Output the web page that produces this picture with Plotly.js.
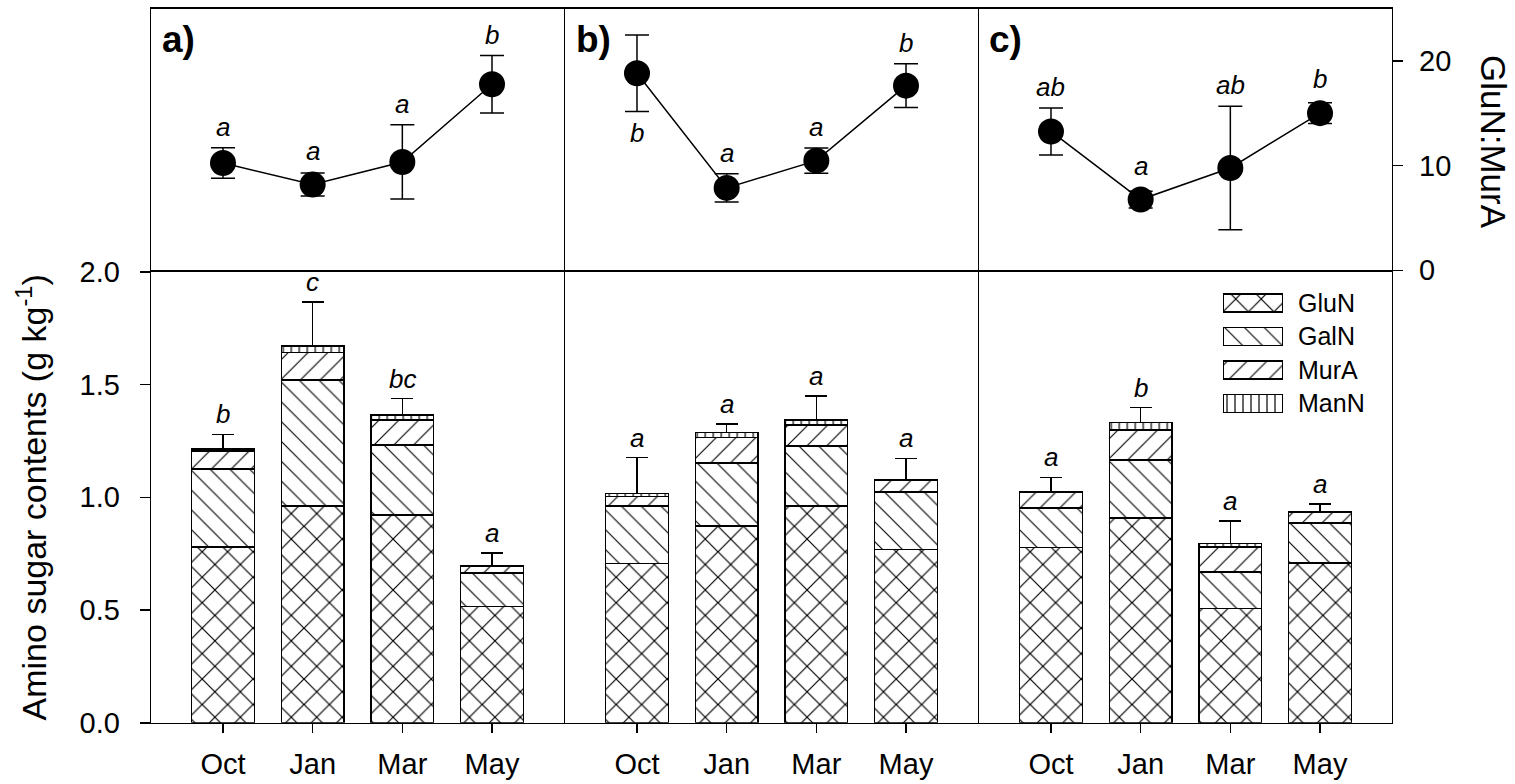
<!DOCTYPE html>
<html>
<head>
<meta charset="utf-8">
<script src="https://cdn.plot.ly/plotly-3.0.1.min.js"></script>
<style>html,body{margin:0;padding:0;background:#fff;}#chart{width:1515px;height:784px;}</style>
</head>
<body>
<div id="chart"></div>
<script>
// ---------------- data ----------------
const months = ['Oct', 'Jan', 'Mar', 'May'];
const panelLabels = ['a)', 'b)', 'c)'];
const seriesNames = ['GluN', 'GalN', 'MurA', 'ManN'];

// amino sugar contents (g kg-1), stacked
const GluN_a = [0.780, 0.961, 0.921, 0.515];
const GalN_a = [0.345, 0.560, 0.311, 0.150];
const MurA_a = [0.081, 0.121, 0.111, 0.031];
const ManN_a = [0.008, 0.028, 0.021, 0.002];
const errTotal_a = [0.065, 0.196, 0.073, 0.054];
const letters_a = ['b', 'c', 'bc', 'a'];

const GluN_b = [0.706, 0.872, 0.961, 0.768];
const GalN_b = [0.255, 0.279, 0.267, 0.256];
const MurA_b = [0.043, 0.115, 0.093, 0.050];
const ManN_b = [0.013, 0.021, 0.021, 0.003];
const errTotal_b = [0.159, 0.037, 0.107, 0.095];
const letters_b = ['a', 'a', 'a', 'a'];

const GluN_c = [0.778, 0.908, 0.507, 0.709];
const GalN_c = [0.174, 0.257, 0.162, 0.177];
const MurA_c = [0.069, 0.134, 0.111, 0.047];
const ManN_c = [0.005, 0.032, 0.016, 0.002];
const errTotal_c = [0.062, 0.066, 0.099, 0.035];
const letters_c = ['a', 'b', 'a', 'a'];

// GluN:MurA ratio
const ratio_a = [10.25, 8.19, 10.35, 17.78];
const ratioErr_a = [1.45, 1.10, 3.55, 2.75];
const ratioLetters_a = ['a', 'a', 'a', 'b'];
const ratioLetterSide_a = ['above', 'above', 'above', 'above'];

const ratio_b = [18.83, 7.87, 10.48, 17.65];
const ratioErr_b = [3.65, 1.35, 1.20, 2.10];
const ratioLetters_b = ['b', 'a', 'a', 'b'];
const ratioLetterSide_b = ['below', 'above', 'above', 'above'];

const ratio_c = [13.27, 6.76, 9.78, 15.02];
const ratioErr_c = [2.25, 0.80, 5.90, 1.00];
const ratioLetters_c = ['ab', 'a', 'ab', 'b'];
const ratioLetterSide_c = ['above', 'above', 'above', 'above'];

const barTicks = [0, 0.5, 1.0, 1.5, 2.0];
const barTickText = ['0.0', '0.5', '1.0', '1.5', '2.0'];
const ratioTicks = [0, 10, 20];

// ---------------- styling / layout ----------------
const W = 1515, H = 784;
const FONT = 'Liberation Sans, Arial, Helvetica, sans-serif';
const px = p => p / W;
const py = p => 1 - p / H;
const LW = 1.5;

// frame line centres (pixels)
const vLines = [150.5, 564.5, 978.5, 1392.5];
const hTop = 8, hMid = 271, hBot = 723.5;
const xPix = [0, 1, 2].map(i => [vLines[i] + LW / 2, vLines[i + 1] - LW / 2]);
const topPix = [hTop + LW / 2, hMid - LW / 2];
const botPix = [hMid + LW / 2, hBot - LW / 2];
const barRange = [0, 2], ratioRange = [0, 25];
const xRange = [-0.8, 3.8];
const markerSize = 26;

const patterns = {
  GluN: {shape: 'x', size: 18, solidity: 0.13},
  GalN: {shape: '\\', size: 14, solidity: 0.08},
  MurA: {shape: '/', size: 14, solidity: 0.08},
  ManN: {shape: '|', size: 8, solidity: 0.15}
};
function pat(name) {
  const p = patterns[name];
  return {shape: p.shape, size: p.size, solidity: p.solidity, fgcolor: 'black', bgcolor: 'white', fillmode: 'replace'};
}

const panels = [
  {GluN: GluN_a, GalN: GalN_a, MurA: MurA_a, ManN: ManN_a, err: errTotal_a, letters: letters_a,
   ratio: ratio_a, rerr: ratioErr_a, rlet: ratioLetters_a, rside: ratioLetterSide_a},
  {GluN: GluN_b, GalN: GalN_b, MurA: MurA_b, ManN: ManN_b, err: errTotal_b, letters: letters_b,
   ratio: ratio_b, rerr: ratioErr_b, rlet: ratioLetters_b, rside: ratioLetterSide_b},
  {GluN: GluN_c, GalN: GalN_c, MurA: MurA_c, ManN: ManN_c, err: errTotal_c, letters: letters_c,
   ratio: ratio_c, rerr: ratioErr_c, rlet: ratioLetters_c, rside: ratioLetterSide_c}
];

const traces = [];
const annotations = [];
const layout = {
  width: W, height: H,
  margin: {l: 0, r: 0, t: 0, b: 0},
  paper_bgcolor: 'white', plot_bgcolor: 'white',
  barmode: 'stack',
  showlegend: false,
  font: {family: FONT, color: 'black', size: 29},
  annotations: annotations
};

const lineAxis = {showline: true, linecolor: 'black', linewidth: LW, mirror: true,
                  showgrid: false, zeroline: false};

panels.forEach((pd, i) => {
  const bx = i === 0 ? 'x' : 'x' + (i + 1);
  const by = i === 0 ? 'y' : 'y' + (i + 1);
  const tx = 'x' + (i + 4), ty = 'y' + (i + 4);
  const bxKey = i === 0 ? 'xaxis' : 'xaxis' + (i + 1);
  const byKey = i === 0 ? 'yaxis' : 'yaxis' + (i + 1);
  const txKey = 'xaxis' + (i + 4), tyKey = 'yaxis' + (i + 4);
  const totals = months.map((m, k) => seriesNames.reduce((s, n) => s + pd[n][k], 0));

  // stacked bars
  seriesNames.forEach((name, si) => {
    const tr = {
      type: 'bar', name: name, x: months, y: pd[name], xaxis: bx, yaxis: by,
      width: 0.7,
      marker: {color: 'white', line: {color: 'black', width: 1.5}, pattern: pat(name)},
      hoverinfo: 'x+y+name'
    };
    if (si === seriesNames.length - 1) {
      tr.error_y = {type: 'data', symmetric: false, array: pd.err, arrayminus: pd.err.map(() => 0),
                    color: 'black', thickness: 1.5, width: 11};
    }
    traces.push(tr);
  });

  // ratio line
  traces.push({
    type: 'scatter', mode: 'lines+markers', name: 'GluN:MurA', x: months, y: pd.ratio,
    xaxis: tx, yaxis: ty,
    line: {color: 'black', width: 1.5},
    marker: {color: 'black', size: markerSize},
    error_y: {type: 'data', array: pd.rerr, color: 'black', thickness: 1.5, width: 12}
  });

  // axes
  layout[bxKey] = Object.assign({}, lineAxis, {
    domain: [px(xPix[i][0]), px(xPix[i][1])], anchor: by, type: 'category',
    range: xRange, ticks: 'outside', ticklen: 9, tickwidth: 1.5, tickcolor: 'black',
    tickfont: {size: 29, family: FONT}, ticklabelstandoff: 6
  });
  layout[byKey] = Object.assign({}, lineAxis, {
    domain: [py(botPix[1]), py(botPix[0])], anchor: bx, range: barRange,
    showticklabels: i === 0, ticks: i === 0 ? 'outside' : '',
    tickvals: barTicks, ticktext: barTickText, ticklen: 10, tickwidth: 1.5, tickcolor: 'black',
    tickfont: {size: 29, family: FONT}, ticklabelstandoff: 14
  });
  if (i === 0) {
    layout[byKey].title = {text: 'Amino sugar contents (g kg<sup>-1</sup>)',
                           font: {size: 34, family: FONT}, standoff: 22};
  }
  layout[txKey] = Object.assign({}, lineAxis, {
    domain: [px(xPix[i][0]), px(xPix[i][1])], anchor: ty, type: 'category',
    range: xRange, showticklabels: false, ticks: ''
  });
  layout[tyKey] = Object.assign({}, lineAxis, {
    domain: [py(topPix[1]), py(topPix[0])], anchor: tx, range: ratioRange,
    showticklabels: false, ticks: i === 2 ? 'outside' : '', side: i === 2 ? 'right' : 'left',
    tickvals: ratioTicks, ticklen: 10, tickwidth: 1.5, tickcolor: 'black'
  });

  // panel letter
  annotations.push({text: '<b>' + panelLabels[i] + '</b>', xref: 'paper', yref: 'paper',
    x: px(vLines[i] + 9), y: py(hTop + 9), xanchor: 'left', yanchor: 'top',
    showarrow: false, font: {size: 37, family: FONT}});

  // significance letters on bars
  months.forEach((m, k) => {
    annotations.push({text: '<i>' + pd.letters[k] + '</i>', xref: bx, yref: by,
      x: m, y: totals[k] + pd.err[k], xanchor: 'center', yanchor: 'bottom', yshift: 3,
      showarrow: false, font: {size: 26, family: FONT}});
  });

  // significance letters on ratio
  const pxPerUnit = (topPix[1] - topPix[0]) / (ratioRange[1] - ratioRange[0]);
  const markerR = (markerSize / 2) / pxPerUnit;
  months.forEach((m, k) => {
    const off = Math.max(pd.rerr[k], markerR);
    const above = pd.rside[k] === 'above';
    annotations.push({text: '<i>' + pd.rlet[k] + '</i>', xref: tx, yref: ty,
      x: m, y: above ? pd.ratio[k] + off : pd.ratio[k] - off,
      xanchor: 'center', yanchor: above ? 'bottom' : 'top', yshift: above ? 4 : -5,
      showarrow: false, font: {size: 26, family: FONT}});
  });
});

// right-hand tick labels of the ratio axis, placed on that axis' scale
ratioTicks.forEach(v => {
  annotations.push({text: String(v), xref: 'paper', yref: 'y6', x: px(1417), y: v,
    xanchor: 'left', yanchor: 'middle', showarrow: false, font: {size: 29, family: FONT}});
});

// right-hand axis title (reads top to bottom)
annotations.push({text: 'GluN:MurA', xref: 'paper', yref: 'paper',
  x: px(1494), y: py(142), xanchor: 'center', yanchor: 'middle', textangle: 90,
  showarrow: false, font: {size: 35, family: FONT}});

// legend drawn as its own small bar subplot
const legendOnes = seriesNames.map(() => 1);
traces.push({
  type: 'bar', orientation: 'h', y: seriesNames, x: legendOnes, xaxis: 'x7', yaxis: 'y7',
  width: 0.54, hoverinfo: 'y',
  marker: {color: 'white', line: {color: 'black', width: 1.5},
           pattern: {shape: seriesNames.map(n => patterns[n].shape),
                     size: seriesNames.map(n => patterns[n].size),
                     solidity: seriesNames.map(n => patterns[n].solidity),
                     fgcolor: 'black', bgcolor: 'white', fillmode: 'replace'}}
});
layout.xaxis7 = {domain: [px(1223), px(1283)], anchor: 'y7', range: [0, 1],
                 visible: false, fixedrange: true};
layout.yaxis7 = {domain: [py(420.25), py(286.25)], anchor: 'x7', type: 'category',
                 autorange: 'reversed', side: 'right', showline: false, showgrid: false,
                 zeroline: false, ticks: '', ticklabelstandoff: 14,
                 tickfont: {size: 25, family: FONT}, fixedrange: true};

Plotly.newPlot('chart', traces, layout, {displayModeBar: false, staticPlot: true});
</script>
</body>
</html>
